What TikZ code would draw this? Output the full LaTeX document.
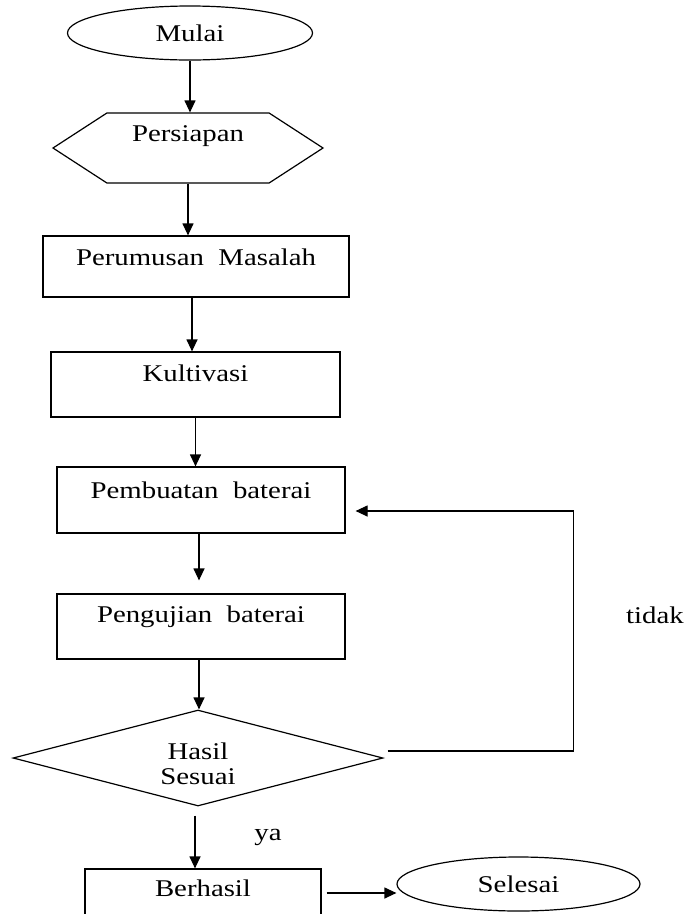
\documentclass[tikz,border=0pt]{standalone}
\usepackage{fontspec}
\setmainfont{Liberation Serif}[FakeStretch=1.2]
\usepackage{tikz}
\usetikzlibrary{arrows.meta,positioning,calc,shapes.geometric,shapes.symbols}

\begin{document}
\begin{tikzpicture}[
  x=1pt, y=-1pt,
  font=\fontsize{24}{25}\selectfont,
  every node/.style={inner sep=0pt},
  terminal/.style={draw, ellipse, line width=1.2pt, minimum width=245pt, minimum height=54pt},
  siapan/.style={draw, signal, signal to=west and east, signal pointer angle=66,
    line width=1.2pt, minimum width=270pt, minimum height=70pt, text height=16pt, text depth=30pt},
  proses/.style={draw, rectangle, line width=1.2pt, text height=16pt, text depth=23pt},
  keputusan/.style={draw, diamond, line width=1.2pt, aspect=3.85, minimum width=370pt,
    minimum height=96pt},
  panah/.style={line width=1.2pt, -{Triangle[length=12pt,width=11pt]}},
]
\useasboundingbox (0,0) rectangle (686,914);
\clip (0,0) rectangle (686,914);

\node[terminal] (mulai) at (190,33) {Mulai};
\node[siapan] (siap) at (188,148) {Persiapan};
\node[proses, minimum width=306pt, minimum height=61pt, text depth=19pt] (rumus) at (196,266.5) {Perumusan~ Masalah};
\node[proses, minimum width=289pt, minimum height=65pt] (kultivasi) at (195.5,384.5) {Kultivasi};
\node[proses, minimum width=288pt, minimum height=66pt, text depth=20pt] (buat) at (201,500) {Pembuatan~ baterai};
\node[proses, minimum width=288pt, minimum height=65pt, text depth=25pt] (uji) at (201,626.5) {Pengujian~ baterai};
\node[keputusan] (hasil) at (198,758)
  {\raisebox{-9pt}[\height][\depth]{\begin{tabular}{@{}c@{}}Hasil\\Sesuai\end{tabular}}};
\node[proses, minimum width=236pt, minimum height=48pt, text depth=10pt] (berhasil) at (203,893) {Berhasil};
\node[terminal, minimum width=243pt] (selesai) at (518.5,884) {Selesai};
\node (ya) at (268,837) {ya};
\node (tidak) at (655,615) {tidak};

\draw[panah] (mulai.south) -- (mulai.south |- siap.north);
\draw[panah] (siap.south) -- (siap.south |- rumus.north);
\draw[panah] ([xshift=-4pt]rumus.south) -- ([xshift=-4pt]rumus.south |- kultivasi.north);
\draw[panah] (kultivasi.south) -- (kultivasi.south |- buat.north);
\draw[panah, shorten >=13pt] ([xshift=-2pt]buat.south) -- ([xshift=-2pt]buat.south |- uji.north);
\draw[panah] ([xshift=-2pt]uji.south) -- ([xshift=-2pt]uji.south |- hasil.north);
\draw[panah, shorten <=9pt] ([xshift=-3pt]hasil.south) -- ([xshift=-3pt]hasil.south |- berhasil.north);
\draw[panah, shorten <=5pt] (berhasil.east) -- (berhasil.east -| selesai.west);
\draw[panah, shorten >=10pt] ([shift={(4pt,7pt)}]hasil.east) -- ++(186,0) |- ([yshift=-11pt]buat.east);
\end{tikzpicture}
\end{document}
